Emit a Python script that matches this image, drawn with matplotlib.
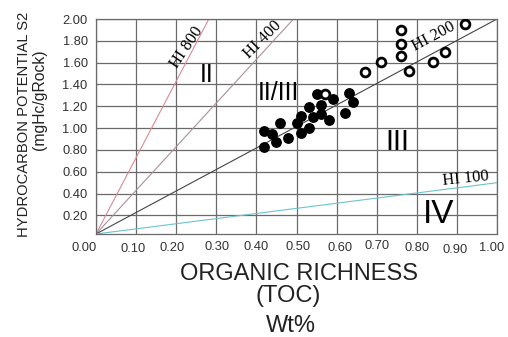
import numpy as np
from matplotlib import pyplot as plt
from matplotlib import transforms

# source rock data (TOC wt%, S2 mgHc/gRock)
toc_filled = [0.42, 0.44, 0.42, 0.45, 0.46, 0.48, 0.50, 0.51, 0.51, 0.53,
              0.53, 0.54, 0.56, 0.56, 0.58, 0.59, 0.63, 0.64, 0.62, 0.55]
s2_filled = [0.97, 0.95, 0.83, 0.87, 1.05, 0.91, 1.05, 0.96, 1.11, 1.00,
             1.19, 1.10, 1.21, 1.13, 1.07, 1.27, 1.32, 1.24, 1.14, 1.31]
toc_open = [0.76, 0.76, 0.76, 0.71, 0.67, 0.78, 0.84, 0.87, 0.92, 0.57]
s2_open = [1.90, 1.77, 1.66, 1.61, 1.51, 1.52, 1.61, 1.70, 1.95, 1.31]

# HI guide lines, S2/TOC slope as drawn on the original
hi_names = ['HI 800', 'HI 400', 'HI 200', 'HI 100']
hi_slopes = [7.0, 4.0, 1.97, 0.47]
hi_colors = ['#d98a96', '#a89098', '#454545', '#6cc3cf']

xticks = np.round(np.arange(0, 1.01, 0.1), 2)
yticks = np.round(np.arange(0.2, 2.01, 0.2), 2)

y0 = 0.03
fig = plt.figure(figsize=(5.08, 3.37), dpi=100)
ax = fig.add_axes([96/508, 1 - 234/337, 401/508, 215/337])
ax.set_xlim(0, 1.0)
ax.set_ylim(y0, 2.0)

sans = 'Liberation Sans'
serif = 'Liberation Serif'

ax.set_xticks(xticks)
ax.set_xticklabels(['%.2f' % v for v in xticks], fontsize=9.3, family=sans, color='#333333')
ax.set_yticks(yticks)
ax.set_yticklabels(['%.2f' % v for v in yticks], fontsize=9.3, family=sans, color='#333333')
ax.tick_params(length=0, pad=6)
ax.grid(True, color='#6a6a6a', lw=0.9)
ax.set_axisbelow(True)
for sp in ax.spines.values():
    sp.set_color('#6a6a6a')
    sp.set_linewidth(0.9)

# jitter of the x tick labels like the scanned original (px)
dx = [-12, -3, -4, 1, 0, 2, 3, 0, 0, -2, -5]
dy = [0, -1, 0, 1, 1, 1, 0, 2, 0, -2, 0]
for lab, a, b in zip(ax.get_xticklabels(), dx, dy):
    off = transforms.ScaledTranslation(a / 100, b / 100, fig.dpi_scale_trans)
    lab.set_transform(lab.get_transform() + off)

xs = np.array([0, 1.0])
for k, c in zip(hi_slopes, hi_colors):
    ax.plot(xs, y0 + k * xs, color=c, lw=0.8, zorder=2)

ax.scatter(toc_filled, s2_filled, s=46, c='black', zorder=3)
ax.scatter(toc_open, s2_open, s=40, facecolors='white', edgecolors='black', linewidths=2.0, zorder=4)

# line labels
ax.text(0.227, 1.74, 'HI 800', rotation=56, fontsize=12, family=serif, ha='center', va='center')
ax.text(0.416, 1.81, 'HI 400', rotation=45, fontsize=12, family=serif, ha='center', va='center')
ax.text(0.843, 1.84, 'HI 200', rotation=28, fontsize=12, family=serif, ha='center', va='center')
ax.text(0.923, 0.535, 'HI 100', rotation=6, fontsize=12, family=serif, ha='center', va='center')

# kerogen type fields
ax.text(0.277, 1.49, 'II', fontsize=18, family=sans, ha='center', va='center')
ax.text(0.454, 1.32, 'II/III', fontsize=18, family=sans, ha='center', va='center')
ax.text(0.751, 0.87, 'III', fontsize=21, family=sans, ha='center', va='center')
ax.text(0.855, 0.205, 'IV', fontsize=24, family=sans, ha='center', va='center')

# axis titles
fig.text(24/508, 1 - 124/337, 'HYDROCARBON POTENTIAL S2', rotation=90, fontsize=10.6,
         family=sans, color='#222222', ha='center', va='center')
fig.text(39/508, 1 - 100/337, '(mgHc/gRock)', rotation=90, fontsize=11.3,
         family=sans, color='#222222', ha='center', va='center')
fig.text(299/508, 1 - 274/337, 'ORGANIC RICHNESS', fontsize=17, family=sans,
         color='#222222', ha='center', va='center')
fig.text(288/508, 1 - 296/337, '(TOC)', fontsize=17, family=sans,
         color='#222222', ha='center', va='center')
fig.text(291/508, 1 - 326/337, 'Wt%', fontsize=17, family=sans,
         color='#222222', ha='center', va='center')

plt.savefig('out.png', dpi=100)
